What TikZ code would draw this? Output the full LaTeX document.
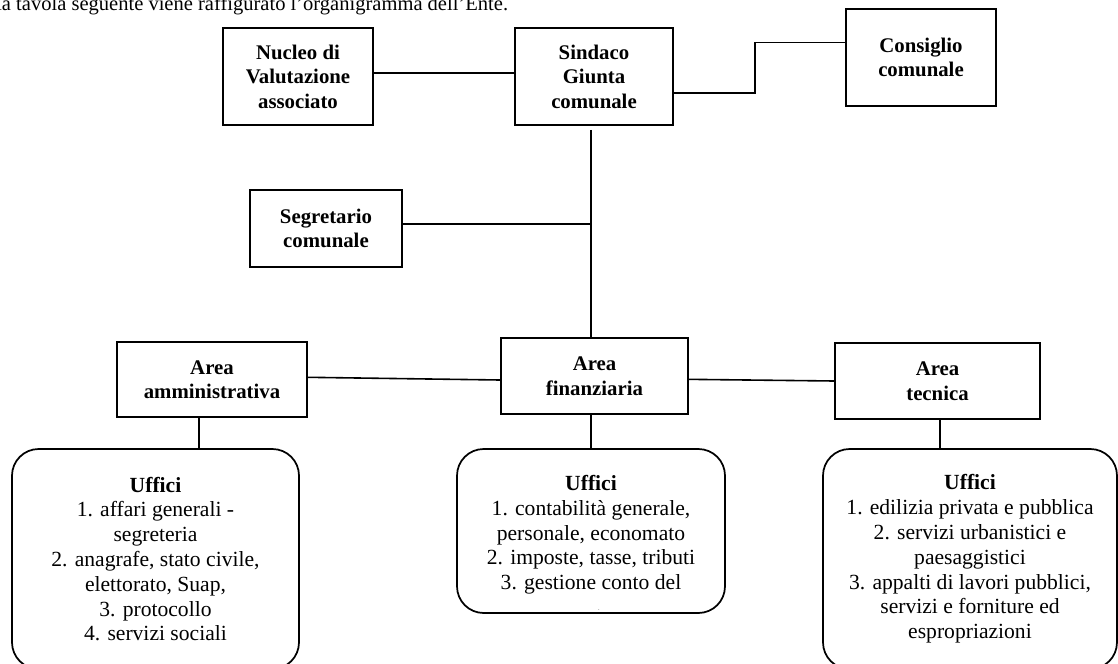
\documentclass[tikz,border=0pt]{standalone}
\usepackage{fontspec}
\setmainfont{Liberation Serif}
\begin{document}
\begin{tikzpicture}[x=0.75pt,y=-0.75pt,
  hbox/.style 2 args={draw,line width=1.3pt,minimum width=#1*0.75pt,minimum height=#2*0.75pt,inner sep=0pt,align=center,font=\fontsize{15.6}{18.4}\selectfont\bfseries},
  ubox/.style 2 args={draw,line width=1.3pt,rounded corners=20pt,minimum width=#1*0.75pt,minimum height=#2*0.75pt,inner sep=0pt,align=center,font=\fontsize{16.2}{18.6}\selectfont},
  utext/.style={inner sep=0pt,align=center,font=\fontsize{16.2}{18.6}\selectfont},
  conn/.style={line width=1.2pt}]
\clip (0,0) rectangle (1118,664);
% intro text (partly cut by the top edge)
\node[anchor=base west,inner sep=0pt,font=\fontsize{15.4}{18}\selectfont] (intro) at (-4,10.5) {la tavola seguente viene raffigurato l'organigramma dell'Ente.};
% boxes
\node[hbox={150}{97}] (nucleo) at (298,76.5) {Nucleo di\\Valutazione\\associato};
\node[hbox={158}{97}] (sindaco) at (594,76.5) {Sindaco\\Giunta\\comunale};
\node[hbox={150}{97}] (consiglio) at (921,57.5) {Consiglio\\comunale};
\node[hbox={152}{77}] (segretario) at (326,228.5) {Segretario\\comunale};
\node[hbox={190}{75}] (amm) at (212,379.5) {Area\\amministrativa};
\node[hbox={187}{76}] (fin) at (594.5,376) {Area\\finanziaria};
\node[hbox={205}{76}] (tec) at (937.5,381) {Area\\tecnica};
% offices
\node[ubox={287}{220}] (ufA) at (155.5,559) {\textbf{Uffici}\\1. affari generali -\\segreteria\\2. anagrafe, stato civile,\\elettorato, Suap,\\3. protocollo\\4. servizi sociali};
\node[ubox={294}{220}] (ufT) at (970,559) {\textbf{Uffici}\\1. edilizia privata e pubblica\\2. servizi urbanistici e\\paesaggistici\\3. appalti di lavori pubblici,\\servizi e forniture ed\\espropriazioni};
\node[ubox={268}{164}] (ufF) at (591,531) {};
\node[utext,anchor=north] (ufFtext) at (591,475) {\textbf{Uffici}\\1. contabilità generale,\\personale, economato\\2. imposte, tasse, tributi\\3. gestione conto del};
\begin{scope}
  \clip (457,449) rectangle (725,609);
  \node[utext,anchor=base] (ufFover) at (591,624) {tesoriere};
\end{scope}
% connector anchors
\coordinate (trunk) at (591,0);
\coordinate (colA) at (199,0);
\coordinate (colT) at (940,0);
\coordinate (bend) at (755,0);
% connectors
\draw[conn] ([yshift=2.85pt]nucleo.east) -- ([yshift=2.85pt]sindaco.west);
\draw[conn] ([yshift=-12.15pt]sindaco.east) -- ([yshift=-12.15pt]sindaco.east -| bend) -- ([yshift=11.4pt]consiglio.west -| bend) -- ([yshift=11.4pt]consiglio.west);
\draw[conn] ([yshift=-3pt]sindaco.south -| trunk) -- (fin.north -| trunk);
\draw[conn] ([yshift=3.4pt]segretario.east) -- ([yshift=3.4pt]segretario.east -| trunk);
\draw[conn] ([yshift=1.65pt]amm.east) -- ([yshift=-3pt]fin.west);
\draw[conn] ([yshift=-2.5pt]fin.east) -- (tec.west);
\draw[conn] (amm.south -| colA) -- (ufA.north -| colA);
\draw[conn] (fin.south -| trunk) -- (ufF.north -| trunk);
\draw[conn] (tec.south -| colT) -- (ufT.north -| colT);
\end{tikzpicture}
\end{document}
